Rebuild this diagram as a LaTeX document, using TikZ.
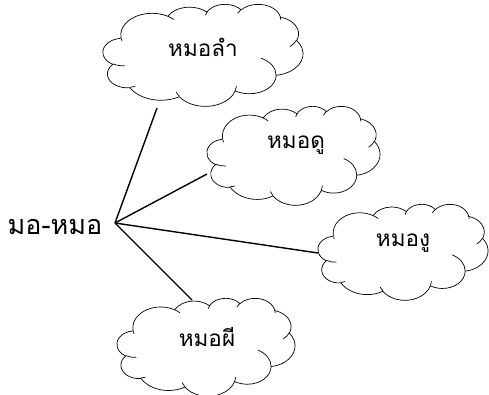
\documentclass[tikz,border=0pt]{standalone}
\usepackage{fontspec}
\newfontfamily\thaifont[Script=Thai]{Loma}
\newcommand\wcarc[4]{arc[x radius=#1, y radius=#2, start angle={atan2(#1*sin(#3),#2*cos(#3))}, delta angle={mod(atan2(#1*sin(#3+#4),#2*cos(#3+#4))-atan2(#1*sin(#3),#2*cos(#3))+720,360)}]}
\newcommand\wordcloudshape[4]{%
\begin{scope}[shift={(#1,#2)}, xscale=#3/43.2, yscale=#4/43.2]
\draw[cloudline] (3.9,14.37) \wcarc{6.753}{9.190}{-190.4875}{123.7805}
 \wcarc{5.333}{7.267}{-144.1024}{89.9452}
 \wcarc{4.365}{5.945}{-145.8079}{99.7230}
 \wcarc{4.857}{6.595}{-130.9861}{117.2417}
 \wcarc{5.333}{7.273}{-78.7089}{109.0269}
 \wcarc{6.775}{9.220}{-46.2673}{130.2690}
 \wcarc{5.785}{7.867}{0.6250}{114.0333}
 \wcarc{6.752}{9.215}{22.4516}{115.1726}
 \wcarc{7.720}{10.543}{66.2426}{75.7110}
 \wcarc{4.360}{5.918}{-274.9421}{146.7356}
 \wcarc{4.345}{5.945}{-246.8285}{152.5189} -- cycle;
\draw[cloudline] (4.693,26.177) \wcarc{4.345}{5.945}{86.7420}{26.4295}
 (6.928,34.899) \wcarc{4.360}{5.918}{73.6105}{11.4475}
 (16.478,39.090) \wcarc{6.752}{9.215}{137.6242}{14.0811}
 (28.827,34.751) \wcarc{6.752}{9.215}{6.4533}{15.9984}
 (34.129,22.954) \wcarc{5.785}{7.867}{-70.2924}{70.9174}
 (41.798,15.354) \wcarc{5.333}{7.273}{30.3180}{27.7515}
 (38.324,5.426) \wcarc{4.857}{6.595}{-13.7443}{14.8589}
 (29.078,3.952) \wcarc{4.857}{6.595}{-149.1815}{18.1954}
 (22.141,4.720) \wcarc{4.365}{5.945}{-163.4943}{17.6864}
 (14.000,5.192) \wcarc{6.753}{9.190}{-66.7070}{12.3194}
 (4.127,15.789) \wcarc{6.753}{9.190}{159.6247}{9.4847};
\end{scope}}
\begin{document}
\begin{tikzpicture}[x=1bp,y=-1bp,
  cloudline/.style={draw=black, line width=0.7bp},
  cloudtext/.style={font=\thaifont\fontsize{22.5bp}{26bp}\selectfont, inner sep=0pt},
  link/.style={line width=1.4bp, black}]
\useasboundingbox (0,0) rectangle (489,394);
\wordcloudshape{103}{4}{200}{102}
\wordcloudshape{207}{106}{173}{99}
\wordcloudshape{318}{204}{170}{96}
\wordcloudshape{117}{298}{178}{98}
\node[cloudtext] (t1) at (203,47) {หมอลำ};
\node[cloudtext] (t2) at (296,145) {หมอดู};
\node[cloudtext] (t3) at (403,243) {หมองู};
\node[cloudtext] (t4) at (207,337) {หมอผี};
\node[font=\thaifont\fontsize{27bp}{30bp}\selectfont, inner sep=0pt] (root) at (55,227) {มอ-หมอ};
\coordinate (hub) at (115,223);
\coordinate (e1) at (157,108);
\coordinate (e2) at (207,174);
\coordinate (e3) at (318,253);
\coordinate (e4) at (192,300);
\draw[link] (hub) -- (e1);
\draw[link] (hub) -- (e2);
\draw[link] (hub) -- (e3);
\draw[link] (hub) -- (e4);
\end{tikzpicture}
\end{document}
